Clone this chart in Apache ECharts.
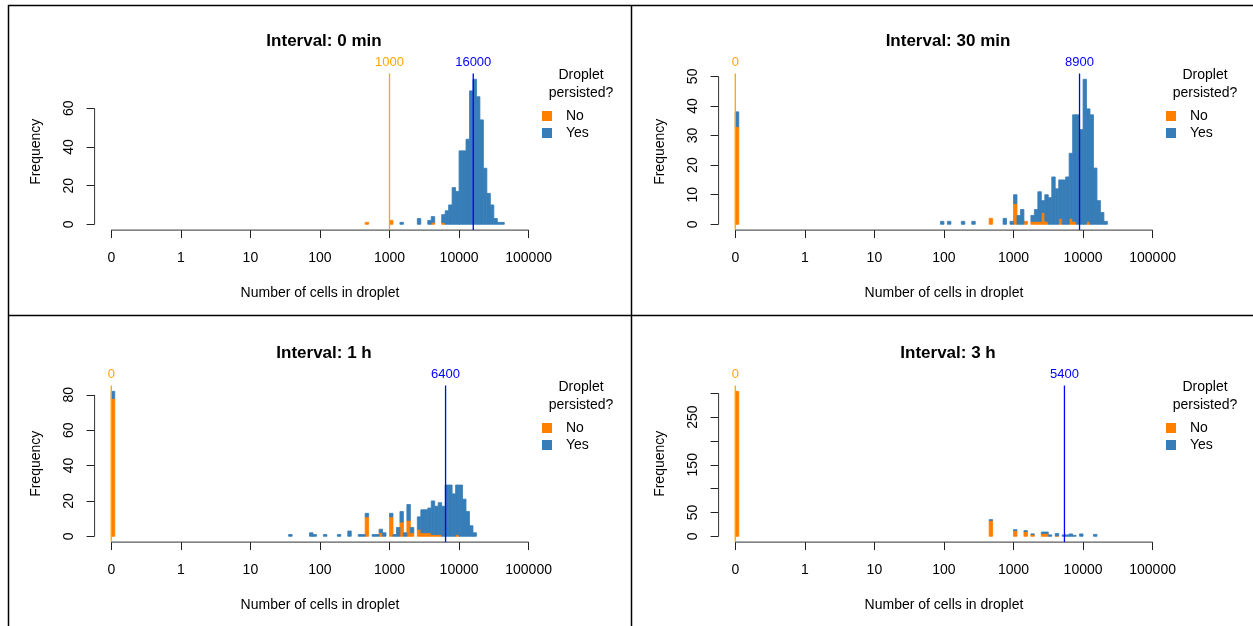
<!DOCTYPE html>
<html>
<head>
<meta charset="utf-8">
<script src="https://cdn.jsdelivr.net/npm/echarts@6/dist/echarts.min.js"></script>
<style>
  html, body { margin: 0; background: #fff; }
  #chart { width: 1253px; height: 626px; }
</style>
</head>
<body>
<div id="chart"></div>
<script>
// panel titles and axis text
const titles = ['Interval: 0 min', 'Interval: 30 min', 'Interval: 1 h', 'Interval: 3 h'];
const tickLabels = ['0', '1', '10', '100', '1000', '10000', '100000'];
const tickPos = [-1, 0, 1, 2, 3, 4, 5];

// median number of cells, not persisted / persisted
const medianNo = [1000, 0, 0, 0];
const medianYes = [16000, 8900, 6400, 5400];

const yTicks = [[0, 20, 40, 60], [0, 10, 20, 30, 40, 50], [0, 20, 40, 60, 80], [0, 50, 100, 150, 200, 250, 300]];
const yLabels = [[0, 20, 40, 60], [0, 10, 20, 30, 40, 50], [0, 20, 40, 60, 80], [0, 50, 150, 250]];

// histogram bins: left edge in log10(cells), empty droplets sit at -1
const binWidth = 0.05;

const bins0 = [2.65, 3.00, 3.15, 3.40, 3.55, 3.60, 3.75, 3.80, 3.85, 3.90, 3.95, 4.00, 4.05, 4.10, 4.15, 4.20, 4.25, 4.30, 4.35, 4.40, 4.45, 4.50, 4.55, 4.60];
const no0 = [1, 2, 0, 0, 0, 1, 1, 0, 0, 0, 0, 0, 0, 0, 0, 0, 0, 0, 0, 0, 0, 0, 0, 0];
const yes0 = [0, 0, 1, 3, 2, 3, 4, 7, 10, 19, 17, 38, 38, 44, 69, 75, 66, 54, 29, 16, 10, 3, 1, 1];

const bins1 = [-1, 1.95, 2.05, 2.25, 2.40, 2.65, 2.85, 2.95, 3.00, 3.05, 3.10, 3.15, 3.25, 3.30, 3.35, 3.40, 3.45, 3.50, 3.55, 3.60, 3.65, 3.70, 3.75, 3.80, 3.85, 3.90, 3.95, 4.00, 4.05, 4.10, 4.15, 4.20, 4.25, 4.30];
const no1 = [33, 0, 0, 0, 0, 2, 0, 0, 7, 0, 0, 1, 1, 1, 1, 4, 1, 0, 0, 0, 2, 0, 0, 2, 1, 0, 0, 0, 1, 0, 0, 0, 0, 0];
const yes1 = [5, 1, 1, 1, 1, 0, 2, 1, 3, 3, 5, 0, 2, 4, 10, 4, 9, 9, 16, 12, 13, 15, 16, 22, 36, 37, 32, 49, 38, 37, 19, 8, 4, 1];

const bins2 = [-1, 1.55, 1.85, 1.90, 2.05, 2.25, 2.40, 2.55, 2.60, 2.65, 2.75, 2.80, 2.85, 2.90, 3.00, 3.05, 3.10, 3.15, 3.20, 3.25, 3.30, 3.40, 3.45, 3.50, 3.55, 3.60, 3.65, 3.70, 3.75, 3.80, 3.85, 3.90, 3.95, 4.00, 4.05, 4.10, 4.15, 4.20];
const no2 = [78, 0, 0, 0, 0, 0, 0, 0, 0, 11, 0, 0, 2, 0, 11, 0, 0, 8, 0, 9, 2, 4, 2, 2, 2, 1, 1, 1, 0, 0, 0, 0, 1, 0, 0, 0, 0, 0];
const yes2 = [4, 1, 2, 1, 1, 1, 3, 1, 1, 2, 1, 1, 2, 2, 2, 1, 5, 6, 2, 9, 3, 7, 13, 13, 14, 19, 16, 18, 17, 29, 29, 24, 28, 29, 21, 14, 6, 2];

const bins3 = [-1, 2.65, 3.00, 3.15, 3.25, 3.40, 3.45, 3.50, 3.60, 3.70, 3.75, 3.80, 3.85, 3.95, 4.15];
const no3 = [304, 33, 12, 10, 4, 6, 6, 0, 1, 0, 0, 0, 0, 0, 0];
const yes3 = [0, 2, 2, 2, 1, 3, 3, 3, 5, 3, 3, 5, 2, 5, 4];

const panels = [
  { bins: bins0, no: no0, yes: yes0 },
  { bins: bins1, no: no1, yes: yes1 },
  { bins: bins2, no: no2, yes: yes2 },
  { bins: bins3, no: no3, yes: yes3 },
];

const ORANGE = '#FF7F00';
const BLUE = '#377EB8';
const MED_COLORS = ['#FFA500', '#0000FF'];
const FONT = 'Liberation Sans';
const X_MIN = -1.24, X_MAX = 5.24;

const toLog = (v) => (v === 0 ? -1 : Math.log10(v));

const rectItem = (color) => (params, api) => {
  const x0 = api.value(0), y0 = api.value(1), y1 = api.value(2);
  if (y1 <= y0) return null;
  const a = api.coord([x0, y1]);
  const b = api.coord([x0 + binWidth, y0]);
  return {
    type: 'rect',
    shape: { x: a[0], y: a[1], width: b[0] - a[0], height: b[1] - a[1] },
    style: { fill: color, stroke: color, lineWidth: 0.8 },
  };
};

// vertical median line over the full plot height with its value on top
const medianItem = (yMin, yMax) => (params, api) => {
  const x = api.value(0);
  const color = MED_COLORS[api.value(1)];
  const top = api.coord([x, yMax]);
  const bottom = api.coord([x, yMin]);
  return {
    type: 'group',
    children: [
      { type: 'line', shape: { x1: top[0], y1: top[1], x2: bottom[0], y2: bottom[1] },
        style: { stroke: color, lineWidth: 1.3, opacity: 1 } },
      { type: 'text', x: top[0], y: top[1] - 5,
        style: { text: String(api.value(2)), fill: color, font: '13px "Liberation Sans"', align: 'center', verticalAlign: 'bottom' } },
    ],
  };
};

const chart = echarts.init(document.getElementById('chart'));

const grid = [], xAxis = [], yAxis = [], series = [], title = [], legend = [];

panels.forEach((p, i) => {
  const ox = (i % 2) * 624, oy = Math.floor(i / 2) * 312;
  const maxCount = Math.max(...p.no.map((n, k) => n + p.yes[k]));
  const yMin = -0.04 * maxCount, yMax = 1.04 * maxCount;

  grid.push({ left: 94.6 + ox, top: 73.5 + oy, width: 450.7, height: 156.6 });

  xAxis.push({
    gridIndex: i, type: 'value', min: X_MIN, max: X_MAX,
    axisLine: { show: false, onZero: false },
    splitLine: { show: false },
    axisTick: { customValues: tickPos, length: 8, lineStyle: { color: '#222' } },
    axisLabel: {
      customValues: tickPos, margin: 21, fontFamily: FONT, fontSize: 14, color: '#000',
      formatter: (v) => tickLabels[Math.round(v) + 1],
    },
    name: 'Number of cells in droplet', nameLocation: 'middle', nameGap: 56,
    nameTextStyle: { fontFamily: FONT, fontSize: 14, color: '#000' },
  });

  yAxis.push({
    gridIndex: i, type: 'value', min: yMin, max: yMax,
    axisLine: { show: false, onZero: false },
    splitLine: { show: false },
    axisTick: { customValues: yTicks[i], length: 8, lineStyle: { color: '#222' } },
    axisLabel: {
      customValues: yLabels[i], rotate: 90, margin: 18, fontFamily: FONT, fontSize: 14, color: '#000',
    },
    name: 'Frequency', nameLocation: 'middle', nameGap: 51,
    nameTextStyle: { fontFamily: FONT, fontSize: 14, color: '#000' },
  });

  title.push({
    text: titles[i], left: 319 + ox, top: 28 + oy, textAlign: 'center',
    textStyle: { fontFamily: FONT, fontSize: 17, fontWeight: 'bold', color: '#000' },
  });
  title.push({
    text: 'Droplet\npersisted?', left: 576 + ox, top: 61 + oy, textAlign: 'center',
    textStyle: { fontFamily: FONT, fontSize: 14, fontWeight: 'normal', color: '#000', lineHeight: 18 },
  });

  legend.push({
    data: ['No', 'Yes'], orient: 'vertical', left: 537 + ox, top: 104 + oy,
    icon: 'rect', itemWidth: 10, itemHeight: 10, itemGap: 3,
    textStyle: { fontFamily: FONT, fontSize: 14, color: '#000', padding: [0, 0, 0, 9] },
    selectedMode: false,
  });

  series.push({
    name: 'No', type: 'custom', xAxisIndex: i, yAxisIndex: i,
    itemStyle: { color: ORANGE },
    renderItem: rectItem(ORANGE), encode: { x: 0, y: 2 },
    data: p.bins.map((b, k) => [b, 0, p.no[k]]),
  });
  series.push({
    name: 'Yes', type: 'custom', xAxisIndex: i, yAxisIndex: i,
    itemStyle: { color: BLUE },
    renderItem: rectItem(BLUE), encode: { x: 0, y: 2 },
    data: p.bins.map((b, k) => [b, p.no[k], p.no[k] + p.yes[k]]),
  });

  // R style axis lines: only from first to last tick
  const axisLine = { type: 'line', xAxisIndex: i, yAxisIndex: i, symbol: 'none', clip: false, silent: true,
    lineStyle: { color: '#333', width: 1 } };
  series.push(Object.assign({ name: 'xline' + i, data: [[-1, yMin], [5, yMin]] }, axisLine));
  const topTick = yTicks[i][yTicks[i].length - 1];
  series.push(Object.assign({ name: 'yline' + i, data: [[X_MIN, 0], [X_MIN, topTick]] }, axisLine));

  series.push({
    name: 'median' + i, type: 'custom', xAxisIndex: i, yAxisIndex: i, silent: true, z: 5, clip: false,
    renderItem: medianItem(yMin, yMax), encode: { x: 0 },
    data: [[toLog(medianNo[i]), 0, medianNo[i]], [toLog(medianYes[i]), 1, medianYes[i]]],
  });
});

chart.setOption({
  animation: false,
  backgroundColor: '#fff',
  title, legend, grid, xAxis, yAxis, series,
  graphic: [
    { type: 'line', shape: { x1: 8, y1: 5.5, x2: 1253, y2: 5.5 }, style: { stroke: '#000', lineWidth: 1.5 } },
    { type: 'line', shape: { x1: 8.5, y1: 5, x2: 8.5, y2: 626 }, style: { stroke: '#000', lineWidth: 1.5 } },
    { type: 'line', shape: { x1: 631.5, y1: 5, x2: 631.5, y2: 626 }, style: { stroke: '#000', lineWidth: 1.5 } },
    { type: 'line', shape: { x1: 8, y1: 315.5, x2: 1253, y2: 315.5 }, style: { stroke: '#000', lineWidth: 1.5 } },
  ],
});
</script>
</body>
</html>
